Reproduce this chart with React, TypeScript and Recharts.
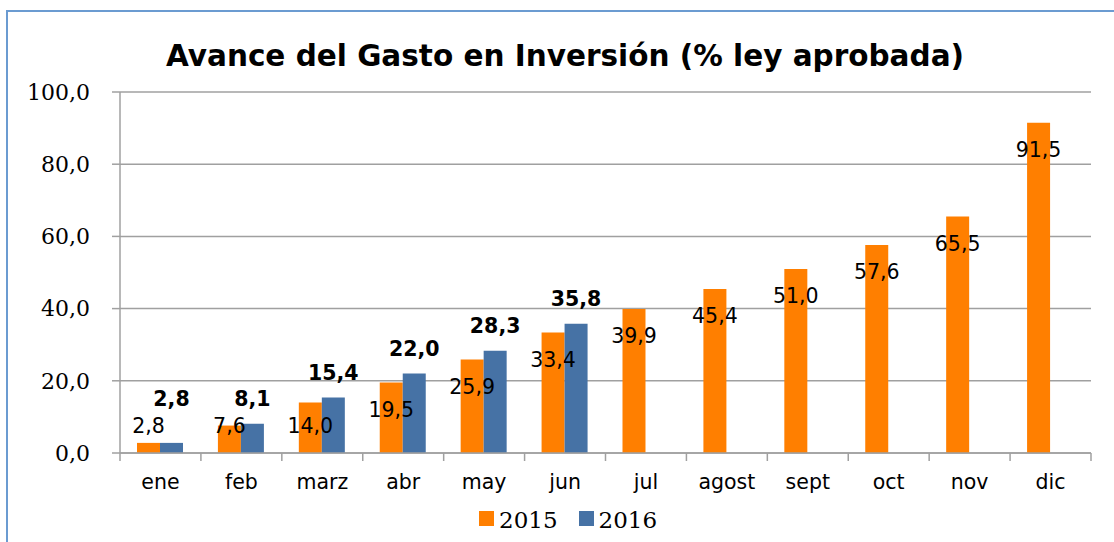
import React from 'react'
import { BarChart, Bar, XAxis, YAxis, CartesianGrid, LabelList } from 'recharts'

const months = ['ene', 'feb', 'marz', 'abr', 'may', 'jun', 'jul', 'agost', 'sept', 'oct', 'nov', 'dic']
const gasto2015 = [2.8, 7.6, 14.0, 19.5, 25.9, 33.4, 39.9, 45.4, 51.0, 57.6, 65.5, 91.5]
const gasto2016 = [2.8, 8.1, 15.4, 22.0, 28.3, 35.8, null, null, null, null, null, null]
const yTicks = [0, 20, 40, 60, 80, 100]

const data = months.map((m, i) => ({ mes: m, y2015: gasto2015[i], y2016: gasto2016[i] }))

const ORANGE = '#FF7F00'
const BLUE = '#4672A5'
const GRID = '#A0A0A0'
const W = 1114
const H = 542
const MARGIN = { top: 92, right: 23, bottom: 0, left: 0 }
const Y_W = 120
const X_H = 89

const fmt = (v: number) => v.toFixed(1).replace('.', ',')

const band = (W - MARGIN.right - Y_W) / months.length

function MonthTick(props: any) {
  const { x, y, payload, index } = props
  const axisY = y - 8
  return (
    <g>
      <line x1={x - band / 2} x2={x - band / 2} y1={axisY} y2={axisY + 8} stroke={GRID} strokeWidth={1.5} />
      {index === months.length - 1 && (
        <line x1={x + band / 2} x2={x + band / 2} y1={axisY} y2={axisY + 8} stroke={GRID} strokeWidth={1.5} />
      )}
      <text x={x} y={axisY + 29} dy="0.35em" textAnchor="middle" fontFamily="'DejaVu Sans', Verdana, sans-serif" fontSize={20.5} fill="#000">
        {payload.value}
      </text>
    </g>
  )
}

function Label2015(props: any) {
  const { x, y, width, height, value } = props
  if (value == null) return null
  const base = y + height
  const cy = Math.min(y + 27, base - 27)
  return (
    <text x={x + width / 2} y={cy} dy="0.35em" textAnchor="middle" fontFamily="'DejaVu Sans', Verdana, sans-serif" fontSize={20.5} fill="#000">
      {fmt(value)}
    </text>
  )
}

function Label2016(props: any) {
  const { x, y, width, height, value } = props
  if (value == null) return null
  const base = y + height
  const cy = Math.min(y - 25, base - 54)
  return (
    <text x={x + width / 2} y={cy} dy="0.35em" textAnchor="middle" fontFamily="'DejaVu Sans', Verdana, sans-serif" fontWeight="bold" fontSize={20.5} fill="#000">
      {fmt(value)}
    </text>
  )
}

export default function App() {
  return (
    <div style={{ position: 'absolute', left: 0, top: 0, width: W, height: H, overflow: 'hidden', background: '#fff' }}>
      <div style={{ position: 'absolute', left: 6, top: 10, width: W + 40, height: H + 40, border: '2px solid #6B9BD1' }} />
      <div
        style={{
          position: 'absolute', left: 0, width: W + 16, top: 39, textAlign: 'center', lineHeight: 'normal',
          fontFamily: "'DejaVu Sans', Verdana, sans-serif", fontWeight: 'bold', fontSize: 29.5, color: '#000',
        }}
      >
        Avance del Gasto en Inversión (% ley aprobada)
      </div>
      <div style={{ position: 'absolute', left: 0, top: 0 }}>
        <BarChart width={W} height={H} data={data} margin={MARGIN} barCategoryGap="21%" barGap={0}>
          <CartesianGrid vertical={false} stroke={GRID} strokeWidth={1.5} />
          <XAxis
            dataKey="mes"
            height={X_H}
            interval={0}
            stroke={GRID}
            strokeWidth={1.5}
            tickLine={false}
            tickSize={8}
            tickMargin={0}
            tick={<MonthTick />}
          />
          <YAxis
            width={Y_W}
            domain={[0, 100]}
            ticks={yTicks}
            interval={0}
            tickFormatter={fmt}
            stroke={GRID}
            strokeWidth={1.5}
            tickSize={8}
            tickMargin={22}
            tick={{ fontFamily: "'DejaVu Serif', serif", fontSize: 22, fill: '#000' }}
          />
          <Bar dataKey="y2015" fill={ORANGE} isAnimationActive={false}>
            <LabelList dataKey="y2015" content={<Label2015 />} />
          </Bar>
          <Bar dataKey="y2016" fill={BLUE} isAnimationActive={false}>
            <LabelList dataKey="y2016" content={<Label2016 />} />
          </Bar>
        </BarChart>
      </div>
      <div
        style={{
          position: 'absolute', left: 479, top: 505, display: 'flex', alignItems: 'center', lineHeight: '30px',
          fontFamily: "'DejaVu Serif', serif", fontSize: 23, color: '#000', whiteSpace: 'nowrap',
        }}
      >
        <span style={{ display: 'inline-block', width: 15, height: 15, background: ORANGE, marginRight: 5, marginTop: -3 }} />
        <span style={{ marginRight: 21 }}>2015</span>
        <span style={{ display: 'inline-block', width: 15, height: 15, background: BLUE, marginRight: 5, marginTop: -3 }} />
        <span>2016</span>
      </div>
    </div>
  )
}
